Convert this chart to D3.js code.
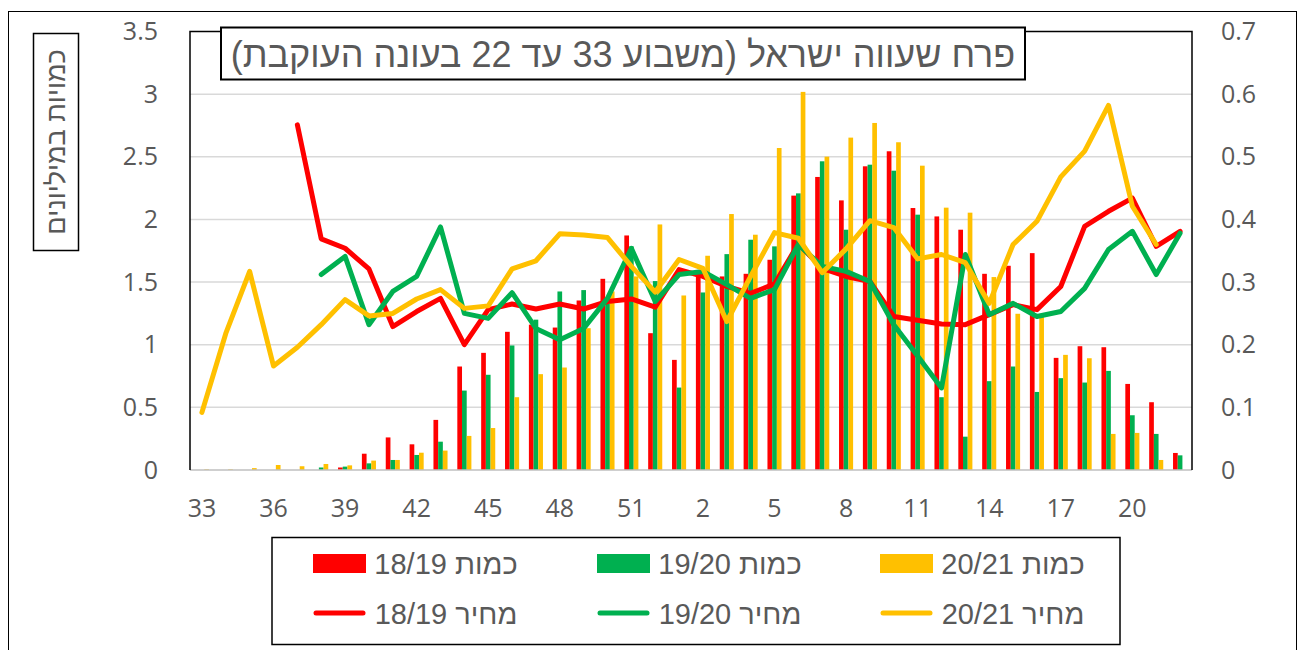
<!DOCTYPE html>
<html>
<head>
<meta charset="utf-8">
<script src="https://cdn.jsdelivr.net/npm/d3@7"></script>
<style>
  body { margin: 0; background: #fff; }
  svg text { font-family: 'Liberation Sans', Arial, sans-serif; fill: #595959; }
  .tick text { font-family: 'Open Sans', 'Liberation Sans', sans-serif; font-size: 25px; fill: #595959; }
</style>
</head>
<body>
<div id="chart"></div>
<script>
// weeks 33..52 of one year, then 1..22 of the next season
const weeks = [33, 34, 35, 36, 37, 38, 39, 40, 41, 42, 43, 44, 45, 46, 47, 48, 49, 50, 51, 52,
  1, 2, 3, 4, 5, 6, 7, 8, 9, 10, 11, 12, 13, 14, 15, 16, 17, 18, 19, 20, 21, 22]

// quantities (millions), left axis
const qty1819 = [0, 0, 0, 0, 0, 0, 0.02, 0.13, 0.26, 0.205, 0.40, 0.826, 0.935, 1.103, 1.16, 1.137, 1.353, 1.526, 1.872, 1.092,
  0.879, 1.572, 1.545, 1.566, 1.678, 2.19, 2.339, 2.152, 2.424, 2.544, 2.091, 2.024, 1.918, 1.566, 1.63, 1.731, 0.895, 0.988, 0.98, 0.687, 0.541, 0.136]
const qty1920 = [0, 0, 0, 0, 0, 0.02, 0.027, 0.053, 0.08, 0.12, 0.226, 0.634, 0.76, 0.994, 1.2, 1.425, 1.436, 1.33, 1.785, 1.508,
  0.658, 1.417, 1.723, 1.838, 1.785, 2.208, 2.464, 1.918, 2.437, 2.389, 2.038, 0.581, 0.266, 0.709, 0.826, 0.623, 0.733, 0.698, 0.791, 0.437, 0.288, 0.117]
const qty2021 = [0.005, 0.005, 0.015, 0.04, 0.03, 0.048, 0.037, 0.075, 0.08, 0.138, 0.155, 0.272, 0.335, 0.581, 0.765, 0.818, 1.132, 1.425, 1.545, 1.96,
  1.393, 1.71, 2.043, 1.878, 2.57, 3.018, 2.501, 2.653, 2.77, 2.616, 2.429, 2.094, 2.054, 1.54, 1.247, 1.225, 0.919, 0.892, 0.288, 0.296, 0.08, 0]

// prices, right axis (null = no point)
const price1819 = [null, null, null, null, 0.551, 0.369, 0.354, 0.321, 0.229, 0.253, 0.274, 0.200, 0.256, 0.265, 0.257, 0.265, 0.257, 0.269, 0.273, 0.260,
  0.320, 0.309, 0.293, 0.282, 0.297, 0.361, 0.322, 0.309, 0.301, 0.245, 0.239, 0.233, 0.232, 0.248, 0.264, 0.256, 0.293, 0.389, 0.413, 0.434, 0.357, 0.381]
const price1920 = [null, null, null, null, null, 0.312, 0.341, 0.232, 0.285, 0.309, 0.388, 0.250, 0.242, 0.283, 0.226, 0.208, 0.226, 0.274, 0.354, 0.269,
  0.312, 0.317, 0.296, 0.274, 0.288, 0.360, 0.325, 0.317, 0.301, 0.232, 0.182, 0.131, 0.344, 0.248, 0.266, 0.245, 0.253, 0.290, 0.352, 0.381, 0.312, 0.378]
const price2021 = [0.092, 0.218, 0.317, 0.166, 0.196, 0.232, 0.272, 0.246, 0.250, 0.273, 0.288, 0.258, 0.262, 0.321, 0.334, 0.377, 0.375, 0.371, 0.325, 0.284,
  0.336, 0.322, 0.237, 0.309, 0.379, 0.370, 0.315, 0.353, 0.398, 0.387, 0.337, 0.344, 0.331, 0.266, 0.360, 0.397, 0.468, 0.509, 0.582, 0.421, 0.360, null]

const leftTicks = [0, 0.5, 1, 1.5, 2, 2.5, 3, 3.5]
const rightTicks = [0, 0.1, 0.2, 0.3, 0.4, 0.5, 0.6, 0.7]

const titleText = 'פרח שעווה ישראל (משבוע 33 עד 22 בעונה העוקבת)'
const yTitleText = 'כמויות במיליונים'

const series = [
  { qty: qty1819, price: price1819, color: '#ff0000', label: '18/19' },
  { qty: qty1920, price: price1920, color: '#00b050', label: '19/20' },
  { qty: qty2021, price: price2021, color: '#ffc000', label: '20/21' },
]

const width = 1298
const height = 650
const plot = { left: 190, right: 1192, top: 31.5, bottom: 470 }

const svg = d3.select('#chart').append('svg').attr('width', width).attr('height', height)

// outer chart frame
svg.append('rect')
  .attr('x', 8.5).attr('y', 11.5).attr('width', 1288).attr('height', 660)
  .attr('fill', 'none').attr('stroke', '#000').attr('stroke-width', 1)

const x = d3.scaleBand()
  .domain(weeks)
  .range([plot.left, plot.right])
  .paddingInner(0.41)
  .paddingOuter(0.205)

const xSub = d3.scaleBand().domain([0, 1, 2]).range([0, x.bandwidth()])

const yLeft = d3.scaleLinear().domain([0, 3.5]).range([plot.bottom, plot.top])
const yRight = d3.scaleLinear().domain([0, 0.7]).range([plot.bottom, plot.top])

// gridlines
svg.append('g')
  .selectAll('line')
  .data(leftTicks.filter((d) => d > 0 && d < 3.5))
  .enter()
  .append('line')
  .attr('x1', plot.left).attr('x2', plot.right)
  .attr('y1', (d) => yLeft(d)).attr('y2', (d) => yLeft(d))
  .attr('stroke', '#d9d9d9').attr('stroke-width', 1.5)

// bars
series.forEach((s, si) => {
  svg.append('g')
    .selectAll('rect')
    .data(weeks.map((w, i) => ({ w, v: s.qty[i] })))
    .enter()
    .append('rect')
    .attr('x', (d) => x(d.w) + xSub(si))
    .attr('width', xSub.bandwidth())
    .attr('y', (d) => yLeft(d.v))
    .attr('height', (d) => plot.bottom - yLeft(d.v))
    .attr('fill', s.color)
})

// x axis line
svg.append('line')
  .attr('x1', plot.left).attr('x2', plot.right)
  .attr('y1', plot.bottom).attr('y2', plot.bottom)
  .attr('stroke', '#bfbfbf').attr('stroke-width', 1.5)

// price lines
series.forEach((s) => {
  const line = d3.line()
    .defined((d) => d.v !== null)
    .x((d) => x(d.w) + x.bandwidth() / 2)
    .y((d) => yRight(d.v))
  svg.append('path')
    .datum(weeks.map((w, i) => ({ w, v: s.price[i] })))
    .attr('d', line)
    .attr('fill', 'none')
    .attr('stroke', s.color)
    .attr('stroke-width', 5)
    .attr('stroke-linejoin', 'round')
    .attr('stroke-linecap', 'round')
})

// plot area frame (left, top, right)
svg.append('path')
  .attr('d', `M${plot.left},${plot.bottom} V${plot.top} H${plot.right} V${plot.bottom}`)
  .attr('fill', 'none').attr('stroke', '#000').attr('stroke-width', 1.5)

// axes
svg.append('g')
  .attr('transform', `translate(${plot.left},0)`)
  .call(d3.axisLeft(yLeft).tickValues(leftTicks).tickSize(0).tickPadding(32).tickFormat((d) => d))
  .call((g) => g.select('.domain').remove())

svg.append('g')
  .attr('transform', `translate(${plot.right},0)`)
  .call(d3.axisRight(yRight).tickValues(rightTicks).tickSize(0).tickPadding(29).tickFormat((d) => d))
  .call((g) => g.select('.domain').remove())

svg.append('g')
  .attr('transform', `translate(0,${plot.bottom})`)
  .call(d3.axisBottom(x).tickValues(weeks.filter((d, i) => i % 3 === 0)).tickSize(0).tickPadding(29))
  .call((g) => g.select('.domain').remove())

// title box
svg.append('rect')
  .attr('x', 221).attr('y', 27.5).attr('width', 804).attr('height', 52)
  .attr('fill', '#fff').attr('stroke', '#000').attr('stroke-width', 2)
svg.append('text')
  .attr('x', 623).attr('y', 67)
  .attr('text-anchor', 'middle')
  .style('direction', 'rtl')
  .style('font-size', '36px')
  .text(titleText)

// left axis title box
svg.append('rect')
  .attr('x', 33.5).attr('y', 33.5).attr('width', 45).attr('height', 217)
  .attr('fill', '#fff').attr('stroke', '#000').attr('stroke-width', 1.5)
svg.append('text')
  .attr('transform', 'translate(65,142) rotate(-90)')
  .attr('text-anchor', 'middle')
  .style('direction', 'rtl')
  .style('font-size', '27px')
  .text(yTitleText)

// legend
svg.append('rect')
  .attr('x', 272).attr('y', 537.5).attr('width', 848).attr('height', 107)
  .attr('fill', '#fff').attr('stroke', '#000').attr('stroke-width', 1.5)

const legendX = [313, 597, 880]
series.forEach((s, i) => {
  const lx = legendX[i]
  svg.append('rect')
    .attr('x', lx).attr('y', 554).attr('width', 53).attr('height', 19)
    .attr('fill', s.color)
  svg.append('text')
    .attr('x', lx + 133).attr('y', 574)
    .attr('text-anchor', 'middle')
    .style('direction', 'rtl')
    .style('font-size', '29px')
    .text(`כמות ${s.label}`)

  svg.append('line')
    .attr('x1', lx + 3).attr('x2', lx + 50)
    .attr('y1', 613).attr('y2', 613)
    .attr('stroke', s.color).attr('stroke-width', 5).attr('stroke-linecap', 'round')
  svg.append('text')
    .attr('x', lx + 133).attr('y', 624)
    .attr('text-anchor', 'middle')
    .style('direction', 'rtl')
    .style('font-size', '29px')
    .text(`מחיר ${s.label}`)
})
</script>
</body>
</html>
